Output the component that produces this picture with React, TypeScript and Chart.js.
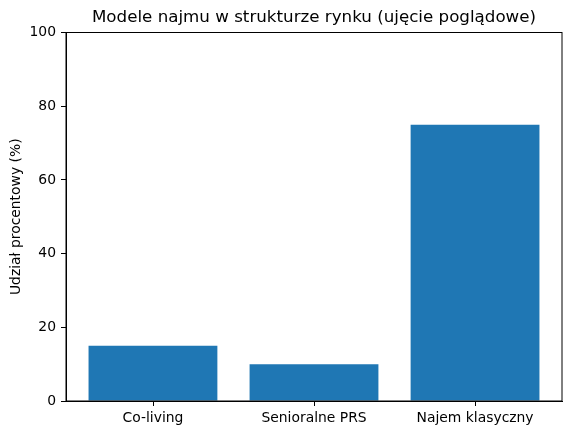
import React, { useEffect, useRef } from "react";
import { Chart, registerables } from "chart.js";

Chart.register(...registerables);

const categories = ["Co-living", "Senioralne PRS", "Najem klasyczny"];
const shares = [15, 10, 75];
const yTicks = [0, 20, 40, 60, 80, 100];
const chartTitle = "Modele najmu w strukturze rynku (ujęcie poglądowe)";

const FONT = "'DejaVu Sans', sans-serif";

// matplotlib-style full frame, x tick marks and a title centred over the axes
const frame = {
  id: "frame",
  afterDraw(chart: Chart) {
    const { ctx, chartArea: a } = chart;
    const xs = chart.scales.x;
    ctx.save();
    ctx.strokeStyle = "#000";
    ctx.lineWidth = 1;
    ctx.strokeRect(a.left, a.top, a.right - a.left, a.bottom - a.top);
    categories.forEach((_, i) => {
      const px = Math.round(xs.getPixelForValue(i)) + 0.5;
      ctx.beginPath();
      ctx.moveTo(px, a.bottom);
      ctx.lineTo(px, a.bottom + 5);
      ctx.stroke();
    });
    ctx.fillStyle = "#000";
    ctx.font = `16.7px ${FONT}`;
    ctx.textAlign = "center";
    ctx.textBaseline = "middle";
    ctx.fillText(chartTitle, (a.left + a.right) / 2, 18);
    ctx.restore();
  },
};

export default function App() {
  const chartRef = useRef<HTMLCanvasElement>(null);

  useEffect(() => {
    document.body.style.margin = "0";
    const chart = new Chart(chartRef.current!, {
      type: "bar",
      data: {
        datasets: [
          {
            data: categories.map((_, i) => ({ x: i, y: shares[i] })),
            backgroundColor: "#1f77b4",
            borderWidth: 0,
            barPercentage: 0.8,
            categoryPercentage: 1,
          },
        ],
      },
      options: {
        animation: false,
        responsive: false,
        layout: { padding: { left: 0, right: 9, top: 32.5, bottom: 0 } },
        plugins: {
          legend: { display: false },
          tooltip: { enabled: false },
          title: { display: false },
        },
        scales: {
          x: {
            type: "linear",
            offset: false,
            min: -0.54,
            max: 2.54,
            afterBuildTicks: (s: any) => {
              s.ticks = categories.map((_, i) => ({ value: i }));
            },
            afterFit: (s: any) => {
              s.height = 34;
            },
            grid: {
              offset: false,
              drawOnChartArea: false,
              drawTicks: false,
              tickLength: 5,
              color: "#000",
            },
            border: { color: "#000" },
            ticks: {
              color: "#000",
              padding: 9,
              maxRotation: 0,
              autoSkip: false,
              font: { family: FONT, size: 13.9 },
              callback: (v: any) => categories[v as number] ?? "",
            },
          },
          y: {
            min: 0,
            max: 100,
            afterBuildTicks: (s: any) => {
              s.ticks = yTicks.map((v) => ({ value: v }));
            },
            afterFit: (s: any) => {
              s.width = 66;
            },
            grid: {
              offset: false,
              drawOnChartArea: false,
              tickLength: 5,
              color: "#000",
            },
            border: { color: "#000" },
            ticks: {
              color: "#000",
              padding: 5,
              font: { family: FONT, size: 13.9 },
            },
            title: {
              display: true,
              text: "Udział procentowy (%)",
              color: "#000",
              font: { family: FONT, size: 13.9 },
              padding: { top: 8, bottom: 0 },
            },
          },
        },
      },
      plugins: [frame],
    });
    return () => chart.destroy();
  }, []);

  return (
    <div style={{ width: 571, height: 435, background: "#fff" }}>
      <canvas ref={chartRef} width={571} height={435} />
    </div>
  );
}
